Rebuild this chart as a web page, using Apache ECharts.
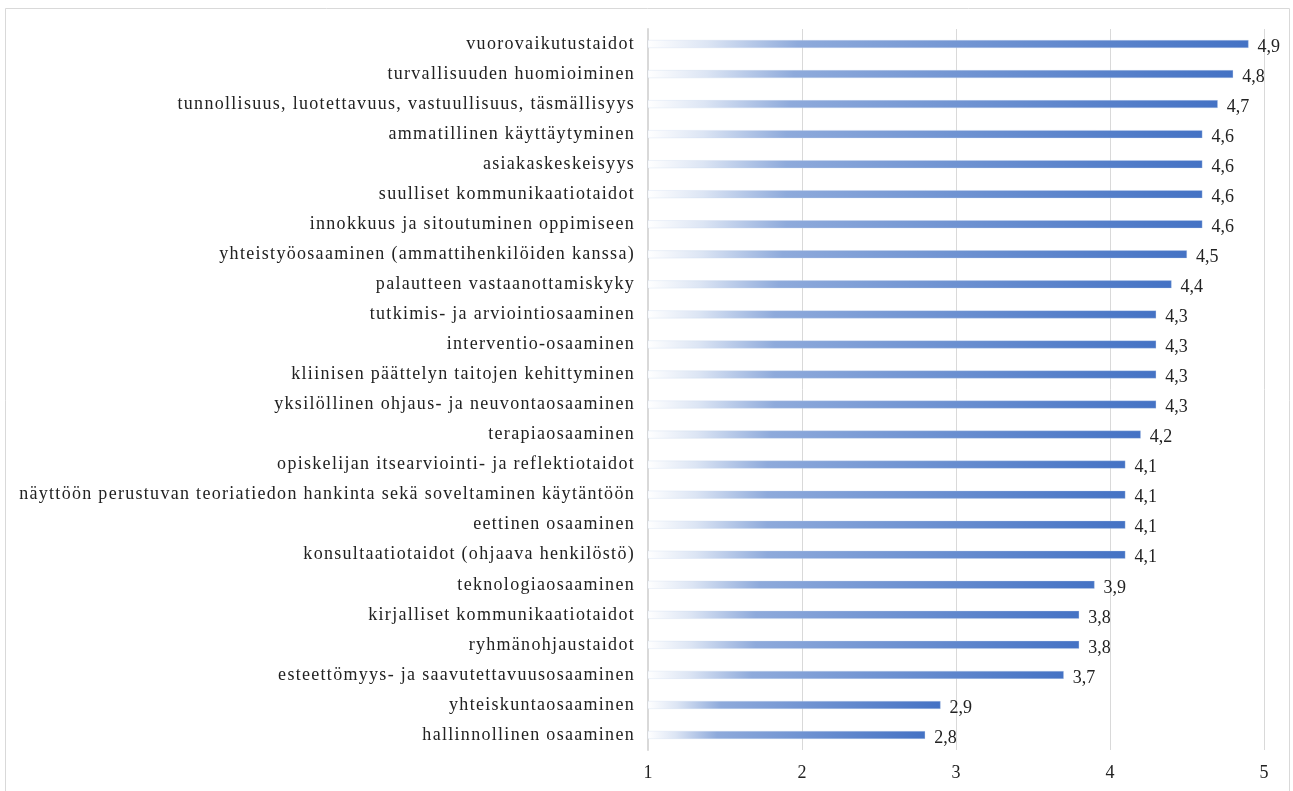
<!DOCTYPE html>
<html>
<head>
<meta charset="utf-8">
<script src="https://cdn.jsdelivr.net/npm/echarts@6/dist/echarts.min.js"></script>
<style>
  html, body { margin: 0; padding: 0; background: #fff; }
  #chart { width: 1293px; height: 791px; }
</style>
</head>
<body>
<div id="chart"></div>
<script>
// Competence areas, listed top to bottom
const categories = [
  'vuorovaikutustaidot',
  'turvallisuuden huomioiminen',
  'tunnollisuus, luotettavuus, vastuullisuus, täsmällisyys',
  'ammatillinen käyttäytyminen',
  'asiakaskeskeisyys',
  'suulliset kommunikaatiotaidot',
  'innokkuus ja sitoutuminen oppimiseen',
  'yhteistyöosaaminen (ammattihenkilöiden kanssa)',
  'palautteen vastaanottamiskyky',
  'tutkimis- ja arviointiosaaminen',
  'interventio-osaaminen',
  'kliinisen päättelyn taitojen kehittyminen',
  'yksilöllinen ohjaus- ja neuvontaosaaminen',
  'terapiaosaaminen',
  'opiskelijan itsearviointi- ja reflektiotaidot',
  'näyttöön perustuvan teoriatiedon hankinta sekä soveltaminen käytäntöön',
  'eettinen osaaminen',
  'konsultaatiotaidot (ohjaava henkilöstö)',
  'teknologiaosaaminen',
  'kirjalliset kommunikaatiotaidot',
  'ryhmänohjaustaidot',
  'esteettömyys- ja saavutettavuusosaaminen',
  'yhteiskuntaosaaminen',
  'hallinnollinen osaaminen'
];

// Mean ratings (scale 1–5)
const values = [
  4.9, 4.8, 4.7, 4.6, 4.6, 4.6, 4.6, 4.5, 4.4, 4.3, 4.3, 4.3,
  4.3, 4.2, 4.1, 4.1, 4.1, 4.1, 3.9, 3.8, 3.8, 3.7, 2.9, 2.8
];

// Value axis ticks
const axisMin = 1;
const axisMax = 5;
const axisStep = 1;

const serif = '"Liberation Serif", "Times New Roman", serif';
const fmt = v => String(v).replace('.', ',');

// loose tracking for the category names; numbers keep normal spacing
(function () {
  const proto = CanvasRenderingContext2D.prototype;
  const origFill = proto.fillText;
  proto.fillText = function (text) {
    if ('letterSpacing' in this) {
      this.letterSpacing = String(text).length > 3 ? '1.3px' : '0px';
    }
    return origFill.apply(this, arguments);
  };
})();

const chart = echarts.init(document.getElementById('chart'), null, { renderer: 'canvas' });

chart.setOption({
  backgroundColor: '#ffffff',
  animation: false,
  graphic: [{
    type: 'rect',
    shape: { x: 5.5, y: 8.5, width: 1284, height: 800 },
    style: { fill: 'none', stroke: '#d9d9d9', lineWidth: 1 },
    silent: true
  }],
  grid: { left: 648, right: 29, top: 29, bottom: 41, containLabel: false },
  xAxis: {
    type: 'value',
    min: axisMin,
    max: axisMax,
    interval: axisStep,
    axisLine: { show: false },
    axisTick: { show: false },
    splitLine: { show: true, lineStyle: { color: '#d9d9d9', width: 1 } },
    axisLabel: {
      color: '#222',
      fontFamily: serif,
      fontSize: 18,
      margin: 14,
      formatter: v => fmt(v)
    }
  },
  yAxis: {
    type: 'category',
    data: categories,
    inverse: true,
    axisLine: { show: true, lineStyle: { color: '#d9d9d9', width: 2 } },
    axisTick: { show: false },
    axisLabel: {
      color: '#222',
      fontFamily: serif,
      fontSize: 18,
      margin: 13
    }
  },
  series: [{
    type: 'bar',
    data: values,
    barWidth: 8,
    itemStyle: {
      color: new echarts.graphic.LinearGradient(0, 0, 1, 0, [
        { offset: 0, color: '#ffffff' },
        { offset: 0.1, color: '#dce5f4' },
        { offset: 0.25, color: '#8eaadb' },
        { offset: 1, color: '#4472c4' }
      ]),
      borderColor: 'rgba(200,214,238,0.6)',
      borderWidth: 0.5
    },
    label: {
      show: true,
      position: 'right',
      distance: 9,
      color: '#222',
      fontFamily: serif,
      fontSize: 18,
      offset: [0, 3],
      formatter: p => fmt(p.value)
    }
  }]
});
</script>
</body>
</html>
